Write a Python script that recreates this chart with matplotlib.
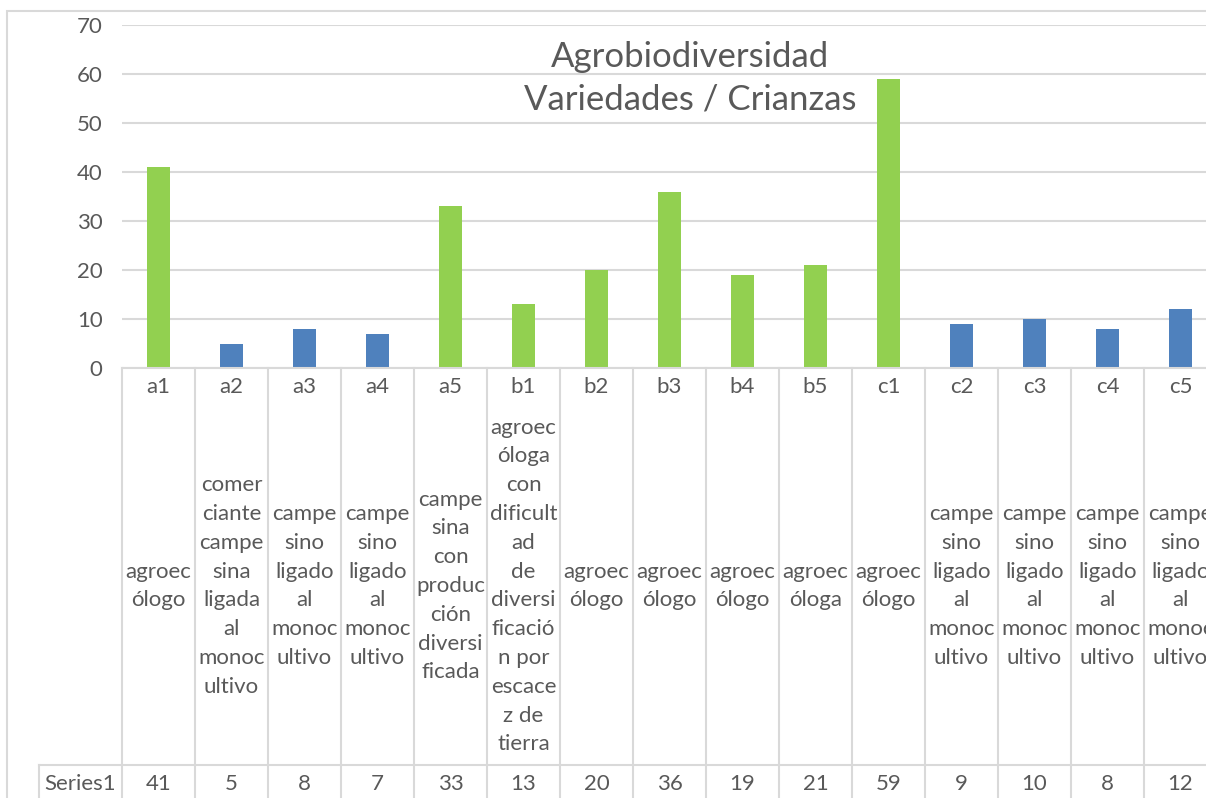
import matplotlib
matplotlib.use("Agg")
import matplotlib.pyplot as plt
from matplotlib.transforms import blended_transform_factory
from matplotlib.patches import Rectangle

plt.rcParams['font.family'] = ['Lato', 'DejaVu Sans']

# codes, descriptions and counts for each farm
codes = ["a1", "a2", "a3", "a4", "a5", "b1", "b2", "b3", "b4", "b5",
         "c1", "c2", "c3", "c4", "c5"]
descriptions = [
    "agroec\nólogo",
    "comer\nciante\ncampe\nsina\nligada\nal\nmonoc\nultivo",
    "campe\nsino\nligado\nal\nmonoc\nultivo",
    "campe\nsino\nligado\nal\nmonoc\nultivo",
    "campe\nsina\ncon\nproduc\nción\ndiversi\nficada",
    "agroec\nóloga\ncon\ndificult\nad\nde\ndiversi\nficació\nn por\nescace\nz de\ntierra",
    "agroec\nólogo",
    "agroec\nólogo",
    "agroec\nólogo",
    "agroec\nóloga",
    "agroec\nólogo",
    "campe\nsino\nligado\nal\nmonoc\nultivo",
    "campe\nsino\nligado\nal\nmonoc\nultivo",
    "campe\nsino\nligado\nal\nmonoc\nultivo",
    "campe\nsino\nligado\nal\nmonoc\nultivo",
]
series1 = [41, 5, 8, 7, 33, 13, 20, 36, 19, 21, 59, 9, 10, 8, 12]
# True = diversified / agroecological, False = tied to monoculture
diversified = [True, False, False, False, True, True, True, True, True, True,
               True, False, False, False, False]

GREEN = "#92D050"
BLUE = "#4F81BD"
TEXT = "#595959"
GRID = "#D9D9D9"
FS = 16

W, H = 1206, 798
fig = plt.figure(figsize=(W / 100, H / 100), dpi=100)


def fx(px):
    return px / W


def fy(py):
    return 1 - py / H


# chart border (runs off the right and bottom edges)
fig.patches.append(Rectangle((fx(7), fy(830)), fx(1240) - fx(7), fy(11) - fy(830),
                             transform=fig.transFigure, fill=False,
                             edgecolor=GRID, lw=1.5))

left, right, top, bottom = 122, 1217, 25, 368
ax = fig.add_axes([fx(left), fy(bottom), fx(right) - fx(left), fy(top) - fy(bottom)])
ax.set_facecolor("none")

x = list(range(len(codes)))
colors = [GREEN if d else BLUE for d in diversified]
ax.bar(x, series1, width=0.32, color=colors, zorder=3)

ax.set_xlim(-0.5, len(codes) - 0.5)
ax.set_ylim(0, 70)
ax.set_yticks(range(0, 71, 10))
ax.set_xticks([])
ax.tick_params(axis='y', length=0, labelsize=FS, labelcolor=TEXT, pad=14)
ax.grid(axis='y', color=GRID, lw=1.5, zorder=0)
for s in ["top", "right", "left"]:
    ax.spines[s].set_visible(False)
ax.spines["bottom"].set_color(GRID)
ax.spines["bottom"].set_linewidth(1.5)
ax.spines["bottom"].set_zorder(4)

# data table under the axis
tr = blended_transform_factory(ax.transData, fig.transFigure)
row_split = 765
for i in range(len(codes) + 1):
    ax.plot([i - 0.5, i - 0.5], [fy(bottom), fy(H + 5)], transform=tr,
            color=GRID, lw=1.5, clip_on=False)
fig.add_artist(plt.Line2D([fx(39), fx(1240)], [fy(row_split), fy(row_split)],
                          color=GRID, lw=1.5))
fig.add_artist(plt.Line2D([fx(39), fx(39)], [fy(row_split), fy(H + 5)],
                          color=GRID, lw=1.5))

for i, (c, d, v) in enumerate(zip(codes, descriptions, series1)):
    ax.text(i, fy(387), c, transform=tr, ha="center", va="center",
            fontsize=FS, color=TEXT, clip_on=False)
    ax.text(i, fy(586), d, transform=tr, ha="center", va="center",
            fontsize=FS, color=TEXT, linespacing=1.55, multialignment="center",
            clip_on=False)
    ax.text(i, fy(784), str(v), transform=tr, ha="center", va="center",
            fontsize=FS, color=TEXT, clip_on=False)

fig.text(fx(80), fy(784), "Series1", ha="center", va="center",
         fontsize=FS, color=TEXT)

fig.text(fx(690), fy(78), "Agrobiodiversidad\nVariedades / Crianzas",
         ha="center", va="center", fontsize=25, color=TEXT, linespacing=1.42)

fig.savefig("out.png", dpi=100)
